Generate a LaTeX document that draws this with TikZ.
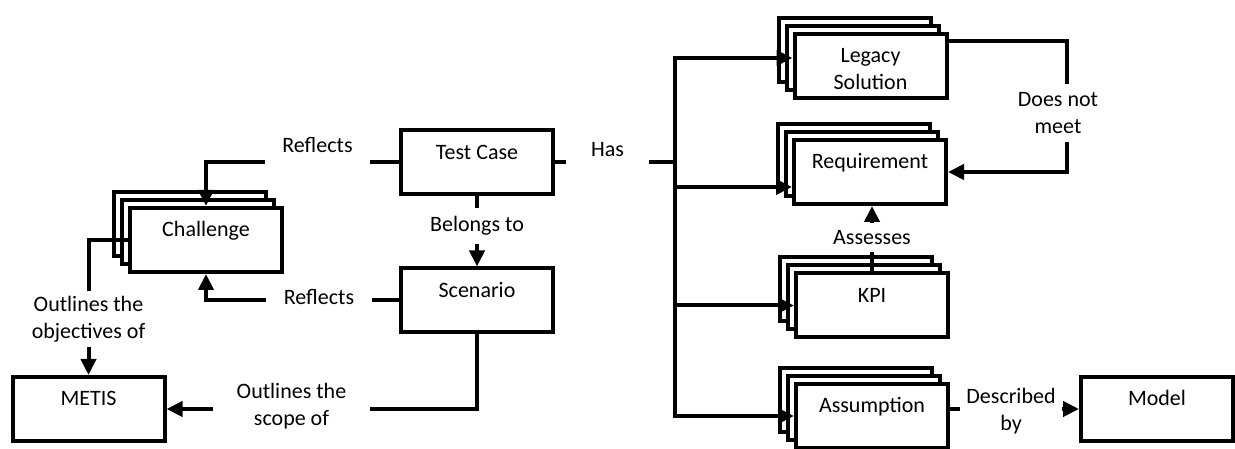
\documentclass[tikz,border=0pt]{standalone}
\usepackage{fontspec}
\setmainfont{Carlito}
\usetikzlibrary{arrows.meta}

\tikzset{
  box/.style={draw, fill=white, minimum width=152pt, minimum height=64pt,
    inner sep=0pt, text height=29pt, text depth=35pt},
  lbl/.style={inner sep=0pt, align=center},
  arr/.style={-{Triangle[length=16pt,width=15pt]}}
}

\begin{document}
\begin{tikzpicture}[x=1pt, y=1pt, line width=4pt, font=\fontsize{22}{27}\selectfont]
\useasboundingbox (0,0) rectangle (1235,449);

% stacked boxes, back copies first
\foreach \nm/\x/\y in {ch/206/209, ls/870.5/383, rq/870/277, kpi/872/143.5, asm/872/33}
{
  \foreach \o in {16,8}
    \node[box] (\nm-\o) at ({\x-\o},{\y+\o}) {};
}

\node[box] (ch) at (206,209) {Challenge};
\node[box] (ls) at (870.5,383) {\begin{tabular}[t]{@{}c@{}}Legacy\\Solution\end{tabular}};
\node[box] (rq) at (870,277) {Requirement};
\node[box] (kpi) at (872,143.5) {KPI};
\node[box] (asm) at (872,33) {Assumption};

\node[box] (tc) at (477,286.5) {Test Case};
\node[box] (sc) at (477,148.5) {Scenario};
\node[box] (metis) at (88.5,40) {METIS};
\node[box] (model) at (1157,40) {Model};

% labels
\node[lbl, minimum width=101pt] (rfla) at (317.5,304) {Reflects};
\node[lbl, minimum width=102pt] (rflb) at (319,152) {Reflects};
\node[lbl, minimum height=32pt] (blg) at (477,223) {Belongs to};
\node[lbl, minimum width=153pt] (scope) at (291.5,42.5) {Outlines the\\scope of};
\node[lbl, minimum height=52pt] (obj) at (88.5,129.5) {Outlines the\\objectives of};
\node[lbl, minimum width=79pt] (has) at (607.5,299) {Has};
\node[lbl, minimum height=54pt] (dnm) at (1058,336) {Does not\\meet};
\node[lbl, minimum height=25pt] (asx) at (872,211.5) {Assesses};
\node[lbl, minimum width=98pt] (dsc) at (1011,38) {Described\\by};

\coordinate (hub) at (675,286.5);

% connectors
\draw (tc.west) -- (rfla.east |- tc.west);
\draw[arr] (rfla.west |- tc.west) -| (ch.north);
\draw (sc.west) -- (rflb.east |- sc.west);
\draw[arr] (rflb.west |- sc.west) -| (ch.south);
\draw (tc.south) -- (blg.north);
\draw[arr] (blg.south) -- (sc.north);
\draw (sc.south) |- (scope.east |- metis.east);
\draw[arr] (scope.west |- metis.east) -- (metis.east);
\draw (ch.west) -| (obj.north);
\draw[arr] (obj.south) -- (metis.north);

\draw (tc.east) -- (has.west |- tc.east);
\draw (has.east |- tc.east) -- (hub);
\draw[arr] (hub) |- ([yshift=8pt]ls.west);
\draw[arr] (hub) |- ([yshift=-15pt]rq.west);
\draw[arr] (hub) |- (kpi.west);
\draw[arr] (hub) |- (asm.west);

\draw ([yshift=25pt]ls.east) -| ([xshift=9pt]dnm.north);
\draw[arr] ([xshift=9pt]dnm.south) |- (rq.east);
\draw (kpi.north) -- (asx.south);
\draw[arr] (asx.north) -- (asx.north |- rq.south);
\draw (asm.east |- model.west) -- (dsc.west |- model.west);
\draw[arr] (dsc.east |- model.west) -- (model.west);
\end{tikzpicture}
\end{document}
